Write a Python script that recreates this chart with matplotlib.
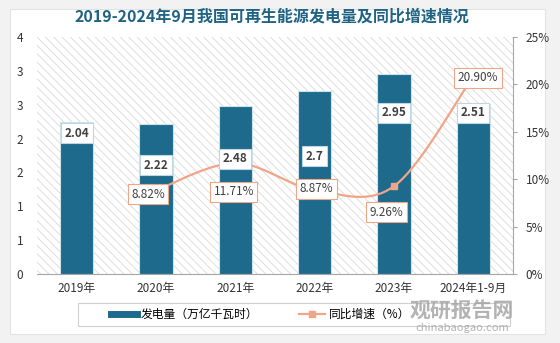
import matplotlib

matplotlib.use("Agg")
import matplotlib.pyplot as plt
from matplotlib.patches import Rectangle
from matplotlib.lines import Line2D
from matplotlib.ticker import FixedLocator, FuncFormatter
import numpy as np

plt.rcParams["font.family"] = ["Noto Sans CJK SC", "DejaVu Sans"]
plt.rcParams["hatch.linewidth"] = 0.6
plt.rcParams["hatch.color"] = "#d9d9d9"

years = ["2019年", "2020年", "2021年", "2022年", "2023年", "2024年1-9月"]
# bar heights as drawn in the source chart, and the printed labels
power = [2.24, 2.22, 2.48, 2.70, 2.95, 2.51]
power_labels = ["2.04", "2.22", "2.48", "2.7", "2.95", "2.51"]
growth = [np.nan, 8.82, 11.71, 8.87, 9.26, 20.90]
growth_labels = ["", "8.82%", "11.71%", "8.87%", "9.26%", "20.90%"]

BAR = "#1d6a8d"
LINE = "#f0a488"
TITLE = "#1f6384"

# label placement (layout only)
bar_lab_y = [2.08, 1.61, 1.70, 1.74, 2.38, 2.38]
line_lab_x = [0, -0.1, -0.02, 0.02, -0.09, 0.06]
line_lab_y = [0, 8.4, 8.7, 9.0, 6.5, 20.7]

fig = plt.figure(figsize=(5.6, 3.43), dpi=100)
fig.patch.set_facecolor("#f2f2f2")
fig.add_artist(Rectangle((0.018, 0.025), 0.955, 0.95, transform=fig.transFigure,
                         facecolor="white", edgecolor="#e2e2e2", lw=0.8, zorder=0))

ax = fig.add_axes([0.066, 0.201, 0.850, 0.691])
ax.set_facecolor("none")
x = np.arange(len(years))

ax.add_patch(Rectangle((0, 0), 1, 1, transform=ax.transAxes, facecolor="white",
                       hatch="\\\\\\\\", edgecolor="#d9d9d9", lw=0, zorder=0))
ax.bar(x, power, width=0.42, color=BAR, edgecolor="#cfe2ea", lw=0.8, zorder=2)
ax.set_xlim(-0.5, len(years) - 0.5)
ax.set_ylim(0, 3.5)
ax.yaxis.set_major_locator(FixedLocator(np.arange(0, 3.51, 0.5)))
ax.yaxis.set_major_formatter(FuncFormatter(lambda v, p: f"{int(np.floor(v + 0.5))}"))
ax.set_xticks(x)
ax.set_xticklabels(years)
ax.tick_params(axis="x", length=0, labelsize=8.5, colors="#333333", pad=6)
ax.tick_params(axis="y", length=0, labelsize=8.5, colors="#333333", pad=10)
for s in ["top", "right", "left"]:
    ax.spines[s].set_visible(False)
ax.spines["bottom"].set_color("#a6a6a6")

ax2 = ax.twinx()
ax2.set_ylim(0, 25)
ax2.set_yticks(np.arange(0, 26, 5))
ax2.yaxis.set_major_formatter(FuncFormatter(lambda v, p: f"{int(v)}%"))
ax2.tick_params(axis="y", direction="out", length=3, color="#a6a6a6",
                labelsize=8.5, labelcolor="#333333", pad=6)
for s in ["top", "left", "bottom"]:
    ax2.spines[s].set_visible(False)
ax2.spines["right"].set_color("#a6a6a6")

# smooth curve through the growth points (Catmull-Rom)
gx = x[1:].astype(float)
gy = np.array(growth[1:])
pts = list(zip(gx, gy))
sx, sy = [], []
for k in range(len(pts) - 1):
    p0 = pts[k - 1] if k > 0 else pts[k]
    p1, p2 = pts[k], pts[k + 1]
    p3 = pts[k + 2] if k + 2 < len(pts) else pts[k + 1]
    t = np.linspace(0, 1, 40)
    for d, out in ((0, sx), (1, sy)):
        a0, a1, a2, a3 = p0[d], p1[d], p2[d], p3[d]
        out.extend(0.5 * ((2 * a1) + (-a0 + a2) * t + (2 * a0 - 5 * a1 + 4 * a2 - a3) * t ** 2
                          + (-a0 + 3 * a1 - 3 * a2 + a3) * t ** 3))
ax2.plot(sx, sy, color=LINE, lw=1.6, zorder=3)
ax2.plot(gx, gy, ls="none", marker="s", ms=5, color=LINE, zorder=4)

# bar value labels drawn on the top axes so they sit above the line
for i, lab in enumerate(power_labels):
    ax2.text(x[i], bar_lab_y[i], lab, transform=ax.transData, ha="center", va="center",
             fontsize=8.5, fontweight="bold", color="#404040", zorder=6,
             bbox=dict(boxstyle="square,pad=0.3", fc="white", ec="#bcd6e2", lw=0.8))

for i, lab in enumerate(growth_labels):
    if not lab:
        continue
    ax2.text(x[i] + line_lab_x[i], line_lab_y[i], lab, ha="center", va="center",
             fontsize=8.5, color="#404040", zorder=6,
             bbox=dict(boxstyle="square,pad=0.3", fc="white", ec=LINE, lw=0.8))

fig.suptitle("2019-2024年9月我国可再生能源发电量及同比增速情况", x=0.485, y=0.975,
             fontsize=11.5, fontweight="bold", color=TITLE)

# legend frame spans wider than its items, as in the source
fig.add_artist(Rectangle((0.139, 0.05), 0.772, 0.067, transform=fig.transFigure,
                         facecolor="white", edgecolor="#d0d0d0", lw=0.8, zorder=1))
handles = [
    Line2D([0], [0], color=BAR, lw=5),
    Line2D([0], [0], color=LINE, lw=1.6, marker="s", ms=5),
]
fig.legend(handles, ["发电量（万亿千瓦时）", "同比增速（%）"], loc="center",
           bbox_to_anchor=(0.465, 0.084), ncol=2, fontsize=8.5, frameon=False,
           columnspacing=3.5, handlelength=2.2, handletextpad=0.3)

fig.text(0.825, 0.097, "观研报告网", fontsize=15, fontweight="bold", color="#a0a0a0",
         alpha=0.8, ha="center", va="center", zorder=5)
fig.text(0.825, 0.043, "chinabaogao.com", fontsize=8, color="#a0a0a0", alpha=0.8,
         ha="center", va="center", zorder=5)

fig.savefig("out.png", dpi=100, facecolor=fig.get_facecolor())
